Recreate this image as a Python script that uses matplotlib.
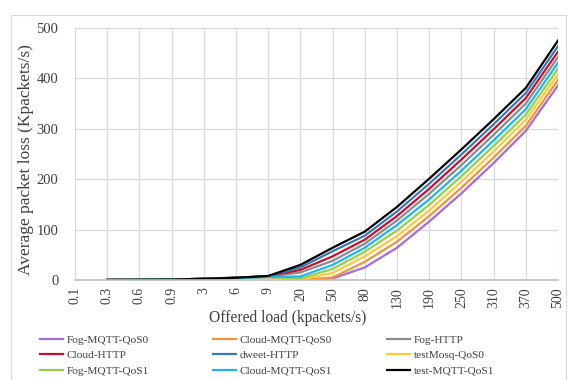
import numpy as np
import matplotlib
matplotlib.use("Agg")
import matplotlib.pyplot as plt
from matplotlib.patches import Rectangle

plt.rcParams['font.family'] = ['Liberation Serif', 'DejaVu Serif']

# offered load categories (Excel category axis)
loads = ["0.1", "0.3", "0.6", "0.9", "3", "6", "9", "20", "50", "80",
         "130", "190", "250", "310", "370", "500"]

nan = np.nan
fog_mqtt_qos0 = [nan, 0.3, 0.5, 0.8, 2, 4, 6, 0, 3, 25, 64, 116, 172, 232, 296, 386]
cloud_mqtt_qos0 = [nan, 0.3, 0.5, 0.8, 2, 4, 6, 0, 5, 36, 76, 127, 183, 243, 306, 397]
fog_http = [nan, 0.3, 0.6, 0.9, 2.5, 4.5, 7, 15, 38, 72, 118, 171, 228, 288, 350, 442]
cloud_http = [nan, 0.3, 0.6, 0.9, 2.5, 4.5, 7.5, 20, 47, 80, 127, 181, 239, 299, 361, 453]
dweet_http = [nan, 0.3, 0.6, 0.9, 2.5, 4.5, 7.5, 25, 57, 88, 136, 191, 249, 309, 371, 464]
testmosq_qos0 = [nan, 0.3, 0.5, 0.8, 2, 4, 6, 1, 14, 47, 87, 138, 195, 255, 318, 408]
fog_mqtt_qos1 = [nan, 0.3, 0.5, 0.8, 2, 4, 6, 3, 22, 56, 98, 149, 206, 266, 328, 419]
cloud_mqtt_qos1 = [nan, 0.3, 0.5, 0.8, 2, 4, 6, 7, 30, 64, 109, 160, 217, 277, 339, 431]
test_mqtt_qos1 = [nan, 0.3, 0.6, 0.9, 2.5, 4.5, 8, 30, 64, 96, 145, 201, 259, 319, 381, 475]

series = [
    ("Fog-MQTT-QoS0", fog_mqtt_qos0, "#A66BDB"),
    ("Cloud-MQTT-QoS0", cloud_mqtt_qos0, "#F0943F"),
    ("Fog-HTTP", fog_http, "#8C8C8C"),
    ("Cloud-HTTP", cloud_http, "#C8102E"),
    ("dweet-HTTP", dweet_http, "#3A78B8"),
    ("testMosq-QoS0", testmosq_qos0, "#FFC93C"),
    ("Fog-MQTT-QoS1", fog_mqtt_qos1, "#92D050"),
    ("Cloud-MQTT-QoS1", cloud_mqtt_qos1, "#1FB4EE"),
    ("test-MQTT-QoS1", test_mqtt_qos1, "#000000"),
]

fig = plt.figure(figsize=(5.71, 3.8), dpi=100)
ax = fig.add_axes([75 / 571, 1 - 280 / 380, (558 - 75) / 571, (280 - 28) / 380])

x = np.arange(len(loads))
handles = {}
for name, vals, col in series:
    h, = ax.plot(x, vals, color=col, lw=1.6, label=name)
    handles[name] = h

ax.set_xlim(0, len(loads) - 1)
ax.set_ylim(0, 500)
ax.set_yticks(range(0, 501, 100))
ax.set_xticks(x)
ax.set_xticklabels(loads, rotation=90, fontsize=10, color="#404040")
ax.tick_params(axis='y', labelsize=10.5, colors="#404040", length=0, pad=12)
ax.tick_params(axis='x', length=0, pad=5)
ax.grid(True, color="#D9D9D9", lw=0.9)
ax.set_axisbelow(True)
for s in ["top", "right", "left"]:
    ax.spines[s].set_visible(False)
ax.spines["bottom"].set_color("#BFBFBF")
ax.spines["bottom"].set_linewidth(1.2)

ax.set_ylabel("Average packet loss (Kpackets/s)", fontsize=12.5, color="#404040")
ax.yaxis.set_label_coords(-0.085, 0.476)
ax.set_xlabel("Offered load (kpackets/s)", fontsize=11.2, color="#404040")
ax.xaxis.set_label_coords(0.441, -0.118)

# legend: Excel lays it out row by row in three equal columns
columns = [["Fog-MQTT-QoS0", "Cloud-HTTP", "Fog-MQTT-QoS1"],
           ["Cloud-MQTT-QoS0", "dweet-HTTP", "Cloud-MQTT-QoS1"],
           ["Fog-HTTP", "testMosq-QoS0", "test-MQTT-QoS1"]]
col_x = [40, 213, 387]
for names, cx in zip(columns, col_x):
    fig.legend([handles[n] for n in names], names, loc="upper left",
               bbox_to_anchor=(cx / 571, 1 - 335 / 380),
               frameon=False, fontsize=8.2, handlelength=2.05,
               handletextpad=0.3, labelspacing=0.48,
               borderaxespad=0, borderpad=0, labelcolor="#404040")

fig.patches.append(Rectangle((11 / 571, -0.1), 555 / 571, 1.1 - 15 / 380,
                             transform=fig.transFigure, fill=False,
                             edgecolor="#D9D9D9", lw=0.8))

fig.savefig("out.png", dpi=100)
